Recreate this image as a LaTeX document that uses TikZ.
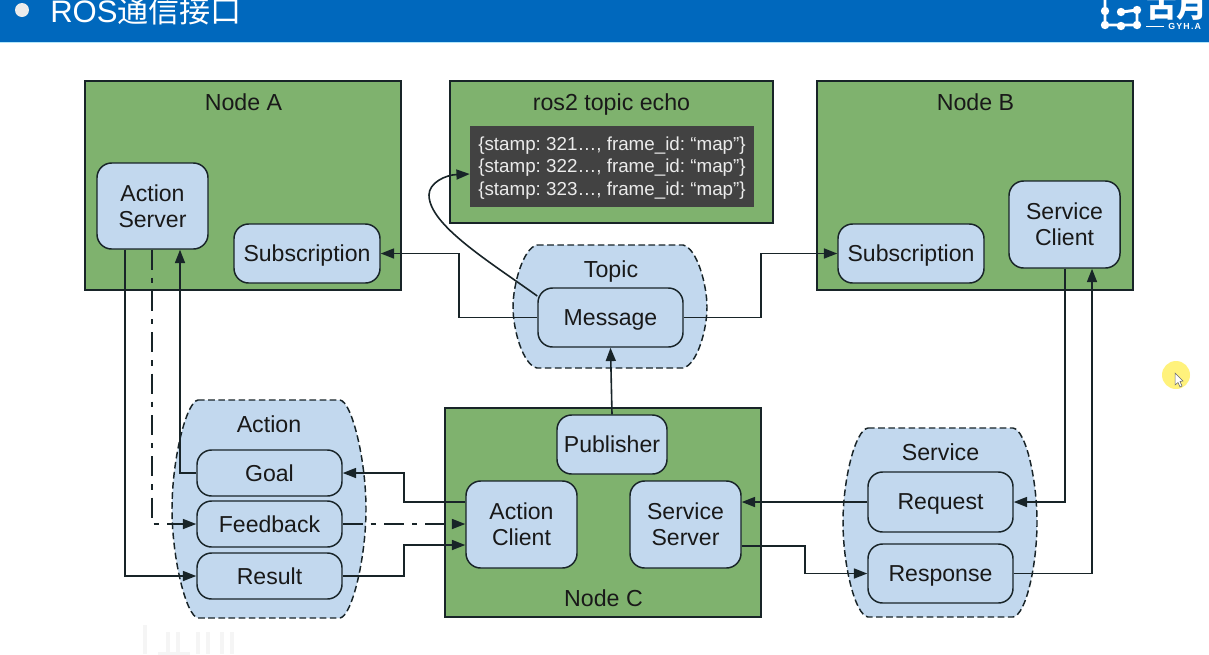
\documentclass[tikz,border=0pt]{standalone}
\usepackage{fontspec}
\setmainfont{Liberation Sans}
\newfontfamily\cjkfont{Noto Sans CJK SC}
\usetikzlibrary{arrows.meta}
\definecolor{nodegreen}{HTML}{7FB26E}
\definecolor{paleblue}{HTML}{C2D8EE}
\definecolor{linedark}{HTML}{182428}
\definecolor{headerblue}{HTML}{0068BD}
\definecolor{termgray}{HTML}{424242}
\definecolor{markyellow}{HTML}{FFF27C}
\frenchspacing
\tikzset{
  x=0.75pt,y=-0.75pt,
  lbl/.style={font=\fontsize{17.4}{21}\selectfont,text=black!90,align=center,inner sep=0pt},
  greenbox/.style={draw=linedark,line width=1.1pt,fill=nodegreen,inner sep=0pt},
  bluebox/.style={draw=linedark,line width=1.1pt,fill=paleblue,rounded corners=11pt,inner sep=0pt,
    font=\fontsize{17.3}{19.6}\selectfont,text=black!90,align=center},
  barrel/.style={draw=linedark,line width=1.1pt,dash pattern=on 5pt off 2.6pt,fill=paleblue},
  link/.style={draw=linedark,line width=1.2pt,-{Triangle[length=10pt,width=7.5pt]}},
  dashlink/.style={link,dash pattern=on 15pt off 6pt on 4pt off 6pt},
}
% text whose descenders do not move it off-centre
\newcommand{\nd}[1]{\raisebox{0pt}[\height][0pt]{#1}}
% box from corners (x1,y1)-(x2,y2), in reference pixels
\newcommand{\pxbox}[7]{%
  \pgfmathsetmacro{\pxcx}{(#4+#6)/2}%
  \pgfmathsetmacro{\pxcy}{(#5+#7)/2}%
  \pgfmathsetmacro{\pxw}{(#6-#4)*0.75}%
  \pgfmathsetmacro{\pxh}{(#7-#5)*0.75}%
  \node[#1,minimum width=\pxw pt,minimum height=\pxh pt] (#2) at (\pxcx,\pxcy) {#3};%
}
\begin{document}
\begin{tikzpicture}
\useasboundingbox (0,0) rectangle (1209,654);
\clip (0,0) rectangle (1209,654);
\fill[white] (0,0) rectangle (1209,654);
% header
\fill[headerblue] (0,0) rectangle (1209,41.5);
\fill[white!70!cyan] (0,41.5) rectangle (1209,42.5);
\fill[white!92!black] (22,10) circle (7);
\node[anchor=base west,inner sep=0pt,text=white,font=\fontsize{23.3}{26}\selectfont] (title) at (50,22) {ROS{\cjkfont 通信接口}};
% logo
\begin{scope}[white]
  \draw[line width=2.2pt,line join=round] (1105,0) -- (1105,25) -- (1137,25) -- (1137,10) -- (1122,12);
  \foreach \lx/\ly in {1105/11,1105/25,1121/26,1137/25,1137/10,1121/12}{\fill (\lx,\ly) circle (4.2);}
  \node[anchor=base west,inner sep=0pt,text=white,font=\cjkfont\bfseries\fontsize{23}{26}\selectfont] (logotext) at (1146,17) {古月};
  \draw[line width=.6pt] (1146,26) -- (1164,26);
  \node[anchor=base west,inner sep=0pt,text=white,font=\bfseries\fontsize{6.6}{7}\addfontfeature{LetterSpace=14}\selectfont] (logosub) at (1168,29) {GYH.A};
\end{scope}
% watermark
\begin{scope}[black!4,line width=3pt]
  \draw (145,625) -- (145,654) (158,654) -- (190,654);
  \foreach \wx in {168,178,198,208,222,232}{\draw (\wx,632) -- (\wx,654);}
\end{scope}
% pointer highlight
\fill[markyellow] (1176,375) circle (14);
\draw[fill=white,draw=black!60,line width=.4pt] (1175,373) -- (1175,385) -- (1178,382.5) -- (1180,387) -- (1182,386) -- (1180,381.5) -- (1183,381) -- cycle;
% group barrels
\path[barrel] (537,245) -- (683,245) .. controls (697,248) and (707,285) .. (707,307)
   .. controls (707,330) and (697,365) .. (683,368) -- (537,368)
   .. controls (523,365) and (513,330) .. (513,307) .. controls (513,285) and (523,248) .. (537,245) -- cycle;
\path[barrel] (198,400) -- (340,400) .. controls (352,402) and (366,460) .. (366,509)
   .. controls (366,558) and (352,616) .. (340,618) -- (198,618)
   .. controls (186,616) and (172,558) .. (172,509) .. controls (172,460) and (186,402) .. (198,400) -- cycle;
\path[barrel] (868,428) -- (1013,428) .. controls (1026,430) and (1037,480) .. (1037,522)
   .. controls (1037,565) and (1026,615) .. (1013,617) -- (868,617)
   .. controls (855,615) and (843,565) .. (843,522) .. controls (843,480) and (855,430) .. (868,428) -- cycle;
% green containers
\pxbox{greenbox}{nodea}{}{85}{81}{401}{290}
\pxbox{greenbox}{echo}{}{450}{81}{773}{223}
\pxbox{greenbox}{nodeb}{}{817}{81}{1133}{290}
\pxbox{greenbox}{nodec}{}{445}{408}{761}{617}
\node[fill=termgray,inner sep=0pt,minimum width=213pt,minimum height=60.75pt,text=white!92!black,align=left,
  font=\fontsize{14.1}{16.9}\selectfont] (term) at (612,166.5)
  {\rule{0pt}{12pt}\{stamp: 321…, frame\_id: “map”\}\\\{stamp: 322…, frame\_id: “map”\}\\\{stamp: 323…, frame\_id: “map”\}};
% titles
\node[lbl] (tA) at (243.5,102) {Node A};
\node[lbl] (tE) at (611.5,102) {\nd{ros2 topic echo}};
\node[lbl] (tB) at (975.5,102) {Node B};
\node[lbl] (tC) at (603.5,598) {Node C};
\node[lbl] (tT) at (611,269) {\nd{Topic}};
\node[lbl] (tAc) at (269,424) {Action};
\node[lbl] (tS) at (940.5,452) {Service};
% inner boxes
\pxbox{bluebox}{as}{Action\\Server}{97}{163}{208}{249}
\pxbox{bluebox}{subA}{\nd{Subscription}}{234}{224}{380}{283}
\pxbox{bluebox}{subB}{\nd{Subscription}}{838}{224}{984}{283}
\pxbox{bluebox}{sc}{Service\\Client}{1009}{181}{1120}{268}
\pxbox{bluebox}{msg}{\nd{Message}}{538}{288}{683}{347}
\pxbox{bluebox}{pub}{Publisher}{557}{415}{667}{474}
\pxbox{bluebox}{ac}{Action\\Client}{466}{481}{577}{568}
\pxbox{bluebox}{ss}{Service\\Server}{630}{481}{741}{568}
\pxbox{bluebox}{goal}{Goal}{197}{450}{342}{496}
\pxbox{bluebox}{fb}{Feedback}{197}{501}{342}{547}
\pxbox{bluebox}{res}{Result}{197}{553}{342}{599}
\pxbox{bluebox}{req}{\nd{Request}}{868}{472}{1013}{532}
\pxbox{bluebox}{resp}{\nd{Response}}{868}{544}{1013}{603}
% connectors
\draw[link] (125,0 |- as.south) |- (res.west);
\draw[dashlink] (152,0 |- as.south) |- (fb.west);
\draw[link] (goal.west) -| (180,0 |- as.south);
\draw[link] (ac.west |- 0,502) -- (404,502) |- (goal.east);
\draw[dashlink] (fb.east) -- (ac.west |- fb.east);
\draw[link] (res.east) -- (404,0 |- res.east) |- (ac.west |- 0,545);
\draw[link] (msg.west) -- (459,0 |- msg.west) |- (subA.east);
\draw[link] (msg.east) -- (761,0 |- msg.east) |- (subB.west);
\draw[link] (msg.west |- 0,296) .. controls (490,262) and (429,225) .. (429,195) .. controls (429,183) and (445,175) .. (term.west |- 0,174);
\draw[link] (pub.north) -- (msg.south);
\draw[link] (ss.east |- 0,546) -- (805,546) |- (resp.west);
\draw[link] (req.west |- 0,502) -- (ss.east |- 0,502);
\draw[link] (1065,0 |- sc.south) |- (req.east |- 0,502);
\draw[link] (resp.east) -- (1092,0 |- resp.east) -- (1092,0 |- sc.south);
\end{tikzpicture}
\end{document}
